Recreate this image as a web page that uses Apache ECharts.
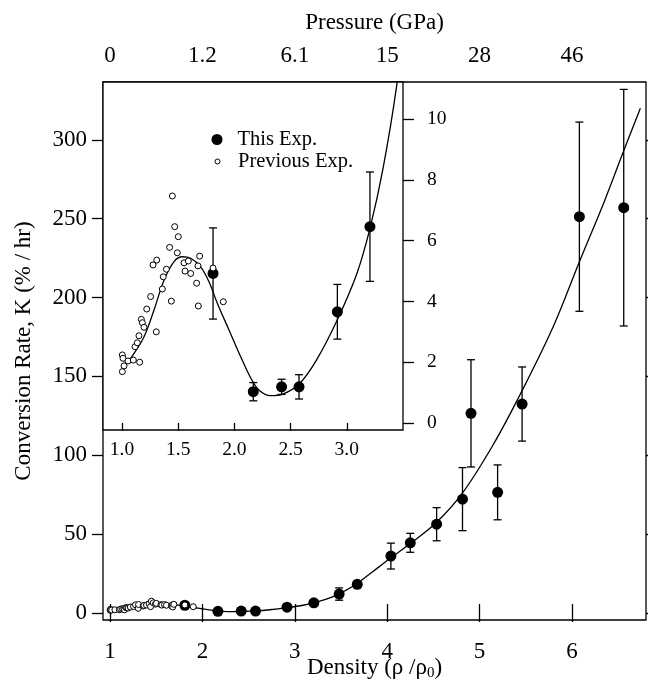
<!DOCTYPE html>
<html>
<head>
<meta charset="utf-8">
<script src="https://cdn.jsdelivr.net/npm/echarts@6/dist/echarts.min.js"></script>
<style>
  html, body { margin: 0; padding: 0; background: #fff; }
  #chart { width: 648px; height: 684px; }
</style>
</head>
<body>
<div id="chart"></div>
<script>
// Axis ticks and labels
const densityTicks = [1, 2, 3, 4, 5, 6];
const pressureLabels = ['0', '1.2', '6.1', '15', '28', '46'];
const rateTicks = [0, 50, 100, 150, 200, 250, 300];
const insetDensityTicks = [1.0, 1.5, 2.0, 2.5, 3.0];
const insetRateTicks = [0, 2, 4, 6, 8, 10];

// This experiment: density, conversion rate (%/hr), error half-width
const thisDensity = [1.81, 2.168, 2.42, 2.575, 2.916, 3.206, 3.48, 3.676, 4.04, 4.25, 4.535, 4.815, 4.907, 5.195, 5.46, 6.08, 6.56];
const thisRate    = [4.92, 1.03, 1.19, 1.19, 3.66, 6.46, 12.0, 18.2, 36.1, 44.5, 56.3, 72.2, 126.6, 76.5, 132.5, 251.3, 257.0];
const thisError   = [1.5, 0.3, 0.25, 0.4, 0.9, 1.8, 3.9, 2.0, 8.2, 6.0, 10.5, 20.0, 34.0, 17.4, 23.5, 60.0, 75.0];

// Previous experiments
const prevDensity = [1.003, 1.003, 1.009, 1.018, 1.053, 1.101, 1.116, 1.136, 1.151, 1.157, 1.172, 1.181, 1.196, 1.220,
                     1.255, 1.276, 1.305, 1.309, 1.359, 1.367, 1.395, 1.424, 1.439, 1.448, 1.469, 1.492, 1.501, 1.552,
                     1.561, 1.590, 1.611, 1.664, 1.676, 1.679, 1.691, 1.81, 1.901];
const prevRate    = [2.24, 1.69, 2.13, 1.88, 2.04, 2.07, 2.51, 2.64, 2.87, 2.00, 3.41, 3.30, 3.15, 3.75,
                     4.16, 5.20, 3.00, 5.36, 4.41, 4.81, 5.06, 5.78, 4.01, 7.47, 6.46, 5.60, 6.13, 5.27,
                     5.00, 5.33, 4.92, 4.60, 5.17, 3.85, 5.49, 5.10, 3.99];

// Fitted curve
const fitDensity = [1.03, 1.10, 1.196, 1.285, 1.374, 1.463, 1.537, 1.611, 1.70, 1.774, 1.848, 1.952, 2.056, 2.15, 2.22,
                    2.32, 2.43, 2.58, 2.73, 2.915, 3.09, 3.21, 3.325, 3.44, 3.55, 3.67, 3.85, 4.03, 4.25, 4.535,
                    4.82, 5.15, 5.46, 5.8, 6.075, 6.35, 6.566, 6.74];
const fitRate    = [1.91, 2.25, 2.84, 3.72, 4.70, 5.31, 5.47, 5.42, 5.14, 4.65, 3.94, 3.06, 2.18, 1.45, 1.08,
                    0.90, 0.95, 1.30, 2.07, 3.39, 4.92, 6.46, 8.43, 11.0, 14.3, 18.5, 26.5, 34.5, 44.0, 57.5,
                    76.5, 107, 141, 182, 222, 261, 294, 320];

const INSET_MAX = 11.22;

const FONT = '"Liberation Serif", "Times New Roman", serif';
const BLACK = '#000';

const zip = (xs, ys) => xs.map((x, i) => [x, ys[i]]);
const fitPoints = zip(fitDensity, fitRate);
const thisPoints = zip(thisDensity, thisRate);
const prevPoints = zip(prevDensity, prevRate);
const errorRows = thisDensity.map((d, i) => [d, thisRate[i] - thisError[i], thisRate[i] + thisError[i]]);

// the inset only shows points whose error bar fits inside its rate range
const insetThis = thisPoints.filter((p, i) => p[1] + thisError[i] <= INSET_MAX);
const insetErrors = errorRows.filter(r => r[2] <= INSET_MAX);

function errorBar(capHalf, width) {
  return function (params, api) {
    const x = api.value(0);
    const lo = api.coord([x, api.value(1)]);
    const hi = api.coord([x, api.value(2)]);
    const st = { stroke: BLACK, lineWidth: width };
    return {
      type: 'group',
      children: [
        { type: 'line', shape: { x1: hi[0], y1: hi[1], x2: lo[0], y2: lo[1] }, style: st },
        { type: 'line', shape: { x1: hi[0] - capHalf, y1: hi[1], x2: hi[0] + capHalf, y2: hi[1] }, style: st },
        { type: 'line', shape: { x1: lo[0] - capHalf, y1: lo[1], x2: lo[0] + capHalf, y2: lo[1] }, style: st }
      ]
    };
  };
}

const tickStyle = { color: BLACK, width: 1.3 };
const filledDot = { color: BLACK, opacity: 1 };
const openDot = { color: '#fff', borderColor: BLACK, borderWidth: 1, opacity: 1 };

const chart = echarts.init(document.getElementById('chart'), null, { renderer: 'canvas' });

chart.setOption({
  animation: false,
  backgroundColor: '#fff',
  textStyle: { fontFamily: FONT, color: BLACK },
  legend: [
    {
      data: ['This Exp.'],
      left: 206.5, top: 124,
      itemWidth: 11, itemHeight: 11,
      itemStyle: { opacity: 1 },
      textStyle: { fontFamily: FONT, fontSize: 20.5, color: BLACK, padding: [0, 0, 0, 10] },
      z: 20
    },
    {
      data: ['Previous Exp.'],
      left: 209.5, top: 146,
      itemWidth: 5, itemHeight: 5,
      itemStyle: { borderWidth: 1, opacity: 1 },
      textStyle: { fontFamily: FONT, fontSize: 20.5, color: BLACK, padding: [0, 0, 0, 13] },
      z: 20
    }
  ],
  grid: [
    { left: 103, top: 82, right: 2, bottom: 64, outerBoundsMode: 'none', containLabel: false,
      show: true, borderColor: BLACK, borderWidth: 1.3, backgroundColor: '#fff', z: 0 },
    { left: 103, top: 82, width: 300, height: 348, outerBoundsMode: 'none', containLabel: false,
      show: true, borderColor: BLACK, borderWidth: 1.3, backgroundColor: '#fff', z: 3 }
  ],
  xAxis: [
    {
      gridIndex: 0, type: 'value', position: 'bottom', min: 0.9242, max: 6.801,
      axisLine: { show: false },
      axisTick: { show: true, inside: false, length: 9, lineStyle: tickStyle, customValues: densityTicks },
      axisLabel: { show: true, margin: 20, fontSize: 23, fontFamily: FONT, color: BLACK, customValues: densityTicks },
      splitLine: { show: false },
      name: 'Density (ρ /ρ{sub|0})',
      nameLocation: 'middle', nameGap: 34, nameMoveOverlap: false,
      nameTextStyle: {
        fontSize: 23, fontFamily: FONT, color: BLACK,
        rich: { sub: { fontSize: 15, fontFamily: FONT, color: BLACK, padding: [12, 0, 0, 0] } }
      }
    },
    {
      gridIndex: 0, type: 'value', position: 'top', min: 0.9242, max: 6.801,
      axisLine: { show: false },
      axisTick: { show: true, inside: false, length: 9, lineStyle: tickStyle, customValues: densityTicks },
      axisLabel: {
        show: true, margin: 15, fontSize: 23, fontFamily: FONT, color: BLACK, customValues: densityTicks,
        formatter: v => pressureLabels[densityTicks.indexOf(v)]
      },
      splitLine: { show: false },
      name: 'Pressure (GPa)',
      nameLocation: 'middle', nameGap: 48,
      nameTextStyle: { fontSize: 23, fontFamily: FONT, color: BLACK }
    },
    {
      gridIndex: 1, type: 'value', position: 'bottom', min: 0.831, max: 3.5,
      axisLine: { show: false },
      axisTick: { show: true, inside: false, length: 8, lineStyle: tickStyle, customValues: insetDensityTicks },
      axisLabel: {
        show: true, margin: 10, fontSize: 19.5, fontFamily: FONT, color: BLACK, customValues: insetDensityTicks,
        formatter: v => v.toFixed(1)
      },
      splitLine: { show: false },
      z: 4
    }
  ],
  yAxis: [
    {
      gridIndex: 0, type: 'value', position: 'left', min: -4.44, max: 336.7,
      axisLine: { show: false },
      axisTick: { show: true, inside: false, length: 11, lineStyle: tickStyle, customValues: rateTicks },
      axisLabel: { show: true, margin: 16, fontSize: 23, fontFamily: FONT, color: BLACK, customValues: rateTicks },
      splitLine: { show: false },
      name: 'Conversion Rate, K (% / hr)',
      nameLocation: 'middle', nameGap: 68, nameRotate: 90,
      nameTextStyle: { fontSize: 23, fontFamily: FONT, color: BLACK }
    },
    {
      gridIndex: 0, type: 'value', position: 'right', min: -4.44, max: 336.7,
      axisLine: { show: false },
      axisTick: { show: true, inside: false, length: 9, lineStyle: tickStyle, customValues: rateTicks },
      axisLabel: { show: false },
      splitLine: { show: false }
    },
    {
      gridIndex: 1, type: 'value', position: 'right', min: -0.23, max: INSET_MAX,
      axisLine: { show: false },
      axisTick: { show: true, inside: false, length: 11, lineStyle: tickStyle, customValues: insetRateTicks },
      axisLabel: { show: true, margin: 24, fontSize: 19.5, fontFamily: FONT, color: BLACK, customValues: insetRateTicks },
      splitLine: { show: false },
      z: 4
    }
  ],
  series: [
    // main panel
    {
      type: 'line', name: 'fit', xAxisIndex: 0, yAxisIndex: 0, data: fitPoints,
      smooth: 0.35, showSymbol: false, symbol: 'none',
      lineStyle: { color: BLACK, width: 1.3 }, z: 2
    },
    {
      type: 'custom', name: 'err', xAxisIndex: 0, yAxisIndex: 0, data: errorRows,
      renderItem: errorBar(4, 1.3), z: 2
    },
    {
      type: 'scatter', name: 'This Exp.', xAxisIndex: 0, yAxisIndex: 0, data: thisPoints,
      symbol: 'circle', symbolSize: 11, itemStyle: filledDot, z: 2
    },
    {
      type: 'scatter', name: 'Previous Exp.', xAxisIndex: 0, yAxisIndex: 0, data: prevPoints,
      symbol: 'circle', symbolSize: 6, itemStyle: openDot, z: 2
    },
    // inset panel
    {
      type: 'line', name: 'fit inset', xAxisIndex: 2, yAxisIndex: 2, data: fitPoints,
      smooth: 0.35, showSymbol: false, symbol: 'none', clip: true,
      lineStyle: { color: BLACK, width: 1.3 }, z: 6
    },
    {
      type: 'custom', name: 'err inset', xAxisIndex: 2, yAxisIndex: 2, data: insetErrors,
      renderItem: errorBar(4, 1.3), z: 6
    },
    {
      type: 'scatter', name: 'This Exp.', xAxisIndex: 2, yAxisIndex: 2, data: insetThis,
      symbol: 'circle', symbolSize: 11, itemStyle: filledDot, z: 7
    },
    {
      type: 'scatter', name: 'Previous Exp.', xAxisIndex: 2, yAxisIndex: 2, data: prevPoints,
      symbol: 'circle', symbolSize: 6, itemStyle: openDot, z: 8
    }
  ]
});
</script>
</body>
</html>
